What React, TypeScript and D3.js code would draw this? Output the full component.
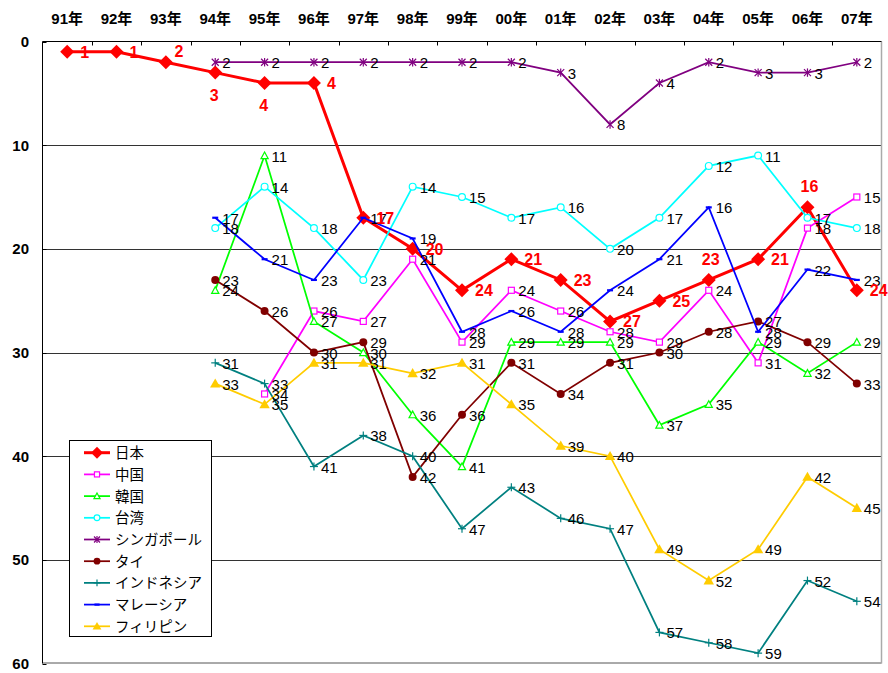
import React from "react";
import * as d3 from "d3";

// Ranking by year (1 = best). null = not ranked that year.
const years = ["91年", "92年", "93年", "94年", "95年", "96年", "97年", "98年", "99年", "00年", "01年", "02年", "03年", "04年", "05年", "06年", "07年"];
const yTicks = [0, 10, 20, 30, 40, 50, 60];

const japan = [1, 1, 2, 3, 4, 4, 17, 20, 24, 21, 23, 27, 25, 23, 21, 16, 24];
const china = [null, null, null, null, 34, 26, 27, 21, 29, 24, 26, 28, 29, 24, 31, 18, 15];
const korea = [null, null, null, 24, 11, 27, 30, 36, 41, 29, 29, 29, 37, 35, 29, 32, 29];
const taiwan = [null, null, null, 18, 14, 18, 23, 14, 15, 17, 16, 20, 17, 12, 11, 17, 18];
const singapore = [null, null, null, 2, 2, 2, 2, 2, 2, 2, 3, 8, 4, 2, 3, 3, 2];
const thailand = [null, null, null, 23, 26, 30, 29, 42, 36, 31, 34, 31, 30, 28, 27, 29, 33];
const indonesia = [null, null, null, 31, 33, 41, 38, 40, 47, 43, 46, 47, 57, 58, 59, 52, 54];
const malaysia = [null, null, null, 17, 21, 23, 17, 19, 28, 26, 28, 24, 21, 16, 28, 22, 23];
const philippines = [null, null, null, 33, 35, 31, 31, 32, 31, 35, 39, 40, 49, 52, 49, 42, 45];

// Where each 日本 label sits relative to its point: r = right, a = above, b = below, ar = above-right
const japanLabelPos = ["r", "r", "ar", "b", "b", "r", "r", "r", "r", "r", "r", "r", "r", "a", "r", "a", "r"];

type Marker = "diamond" | "square" | "triangle" | "circle" | "star" | "dot" | "plus" | "dash" | "filledTriangle";

interface Series {
  name: string;
  values: (number | null)[];
  color: string;
  marker: Marker;
  width: number;
}

const series: Series[] = [
  { name: "日本", values: japan, color: "#FF0000", marker: "diamond", width: 3 },
  { name: "中国", values: china, color: "#FF00FF", marker: "square", width: 1.75 },
  { name: "韓国", values: korea, color: "#00FF00", marker: "triangle", width: 1.75 },
  { name: "台湾", values: taiwan, color: "#00FFFF", marker: "circle", width: 1.75 },
  { name: "シンガポール", values: singapore, color: "#800080", marker: "star", width: 1.75 },
  { name: "タイ", values: thailand, color: "#800000", marker: "dot", width: 1.75 },
  { name: "インドネシア", values: indonesia, color: "#008080", marker: "plus", width: 1.75 },
  { name: "マレーシア", values: malaysia, color: "#0000FF", marker: "dash", width: 1.75 },
  { name: "フィリピン", values: philippines, color: "#FFCC00", marker: "filledTriangle", width: 1.75 },
];

const W = 888;
const H = 673;
const plot = { left: 42.5, right: 881.5, top: 41.5, bottom: 663.5 };

const x = d3.scaleBand<string>().domain(years).range([plot.left, plot.right]).paddingInner(0).paddingOuter(0);
const y = d3.scaleLinear().domain([0, 60]).range([plot.top, plot.bottom]);
const cx = (i: number) => (x(years[i]) as number) + x.bandwidth() / 2;

const labelFont = "'Liberation Sans Narrow', 'Arial Narrow', 'Liberation Sans', sans-serif";
const boldFont = "'Liberation Sans', 'Noto Sans CJK JP', sans-serif";
const jpFont = "'Noto Sans CJK JP', 'Liberation Sans', sans-serif";

function MarkerShape({ type, px, py, color, scale = 1 }: { type: Marker; px: number; py: number; color: string; scale?: number }) {
  const s = scale;
  switch (type) {
    case "diamond": {
      const r = 7 * s;
      return <path d={`M${px},${py - r}L${px + r},${py}L${px},${py + r}L${px - r},${py}Z`} fill={color} />;
    }
    case "square": {
      const r = 3 * s;
      return <rect x={px - r} y={py - r} width={2 * r} height={2 * r} fill="#fff" stroke={color} strokeWidth={1.2} />;
    }
    case "triangle": {
      const r = 3.6 * s;
      return <path d={`M${px},${py - r}L${px + r},${py + r * 0.85}L${px - r},${py + r * 0.85}Z`} fill="#fff" stroke={color} strokeWidth={1.2} />;
    }
    case "circle":
      return <circle cx={px} cy={py} r={3.4 * s} fill="#fff" stroke={color} strokeWidth={1.2} />;
    case "star": {
      const r = 3.5 * s;
      return (
        <g stroke={color} strokeWidth={1.2}>
          <line x1={px - r} y1={py - r} x2={px + r} y2={py + r} />
          <line x1={px - r} y1={py + r} x2={px + r} y2={py - r} />
          <line x1={px} y1={py - r * 1.2} x2={px} y2={py + r * 1.2} />
        </g>
      );
    }
    case "dot":
      return <circle cx={px} cy={py} r={4 * s} fill={color} />;
    case "plus": {
      const r = 4 * s;
      return (
        <g stroke={color} strokeWidth={1.2}>
          <line x1={px - r} y1={py} x2={px + r} y2={py} />
          <line x1={px} y1={py - r} x2={px} y2={py + r} />
        </g>
      );
    }
    case "dash": {
      const r = 3 * s;
      return <line x1={px - r} y1={py} x2={px + r} y2={py} stroke={color} strokeWidth={2.2} />;
    }
    case "filledTriangle": {
      const r = 5.2 * s;
      return <path d={`M${px},${py - r}L${px + r},${py + r * 0.75}L${px - r},${py + r * 0.75}Z`} fill={color} />;
    }
  }
  return null;
}

export default function App() {
  const line = d3
    .line<number | null>()
    .defined((d) => d !== null)
    .x((_, i) => cx(i))
    .y((d) => y(d as number));

  const legend = { x: 69.5, y: 440.5, w: 142, h: 196, rowY0: 452.7, rowStep: 21.7 };

  return (
    <div style={{ position: "absolute", left: 0, top: 0 }}>
      <svg width={W} height={H} style={{ display: "block", background: "#fff" }}>
        {/* gridlines */}
        {yTicks
          .filter((t) => t > 0 && t < 60)
          .map((t) => (
            <line key={t} x1={plot.left} x2={plot.right} y1={Math.round(y(t)) + 0.5} y2={Math.round(y(t)) + 0.5} stroke="#333" strokeWidth={1} />
          ))}

        {/* plot frame */}
        <line x1={plot.left} x2={plot.right} y1={plot.bottom - 0.5} y2={plot.bottom - 0.5} stroke="#555" strokeWidth={1} />
        <line x1={plot.right} x2={plot.right} y1={plot.top} y2={plot.bottom} stroke="#aaa" strokeWidth={1.5} />
        <line x1={plot.left} x2={plot.right} y1={plot.top} y2={plot.top} stroke="#000" strokeWidth={1} />
        <line x1={plot.left} x2={plot.left} y1={plot.top} y2={plot.bottom} stroke="#000" strokeWidth={1} />

        {/* category ticks on top axis (inside) */}
        {years.slice(1).map((yr) => {
          const tx = Math.round(x(yr) as number) + 0.5;
          return <line key={yr} x1={tx} x2={tx} y1={plot.top} y2={plot.top + 4} stroke="#000" strokeWidth={1} />;
        })}
        {/* value ticks on left axis (inside) */}
        {yTicks.map((t) => (
          <line key={t} x1={plot.left} x2={plot.left + 4} y1={Math.round(y(t)) + 0.5} y2={Math.round(y(t)) + 0.5} stroke="#000" />
        ))}

        {/* axis labels */}
        {years.map((yr, i) => (
          <text key={yr} x={cx(i)} y={24} textAnchor="middle" fontFamily={boldFont} fontWeight="bold" fontSize={15} fill="#000">
            {yr}
          </text>
        ))}
        {yTicks.map((t) => (
          <text key={t} x={29} y={y(t) + 5.5} textAnchor="end" fontFamily={boldFont} fontWeight="bold" fontSize={15} fill="#000">
            {t}
          </text>
        ))}

        {/* series lines and markers */}
        {series.map((s) => (
          <g key={s.name}>
            <path d={line(s.values) || ""} fill="none" stroke={s.color} strokeWidth={s.width} strokeLinejoin="miter" />
            {s.values.map((v, i) =>
              v === null ? null : <MarkerShape key={i} type={s.marker} px={cx(i)} py={y(v)} color={s.color} />
            )}
          </g>
        ))}

        {/* data labels */}
        {series.slice(1).map((s) => (
          <g key={s.name}>
            {s.values.map((v, i) =>
              v === null ? null : (
                <text key={i} x={cx(i) + 7} y={y(v) + 6} fontFamily={labelFont} fontSize={15} fill="#000">
                  {v}
                </text>
              )
            )}
          </g>
        ))}
        {japan.map((v, i) => {
          const pos = japanLabelPos[i];
          let lx = cx(i) + 13;
          let ly = y(v) + 6;
          let anchor: "start" | "middle" = "start";
          if (pos === "a") {
            lx = cx(i) + 2;
            ly = y(v) - 15;
            anchor = "middle";
          } else if (pos === "b") {
            lx = cx(i) - 1;
            ly = y(v) + 28;
            anchor = "middle";
          } else if (pos === "ar") {
            lx = cx(i) + 13;
            ly = y(v) - 5;
            anchor = "middle";
          }
          return (
            <text key={i} x={lx} y={ly} textAnchor={anchor} fontFamily={boldFont} fontWeight="bold" fontSize={16} fill="#FF0000">
              {v}
            </text>
          );
        })}

        {/* legend */}
        <rect x={legend.x} y={legend.y} width={legend.w} height={legend.h} fill="#fff" stroke="#000" strokeWidth={1} />
        {series.map((s, i) => {
          const ly = legend.rowY0 + i * legend.rowStep;
          return (
            <g key={s.name}>
              <line x1={84} x2={110} y1={ly} y2={ly} stroke={s.color} strokeWidth={s.width} />
              <MarkerShape type={s.marker} px={97} py={ly} color={s.color} scale={0.85} />
              <text x={115} y={ly + 5.5} fontFamily={jpFont} fontSize={14.5} fill="#000">
                {s.name}
              </text>
            </g>
          );
        })}
      </svg>
    </div>
  );
}
